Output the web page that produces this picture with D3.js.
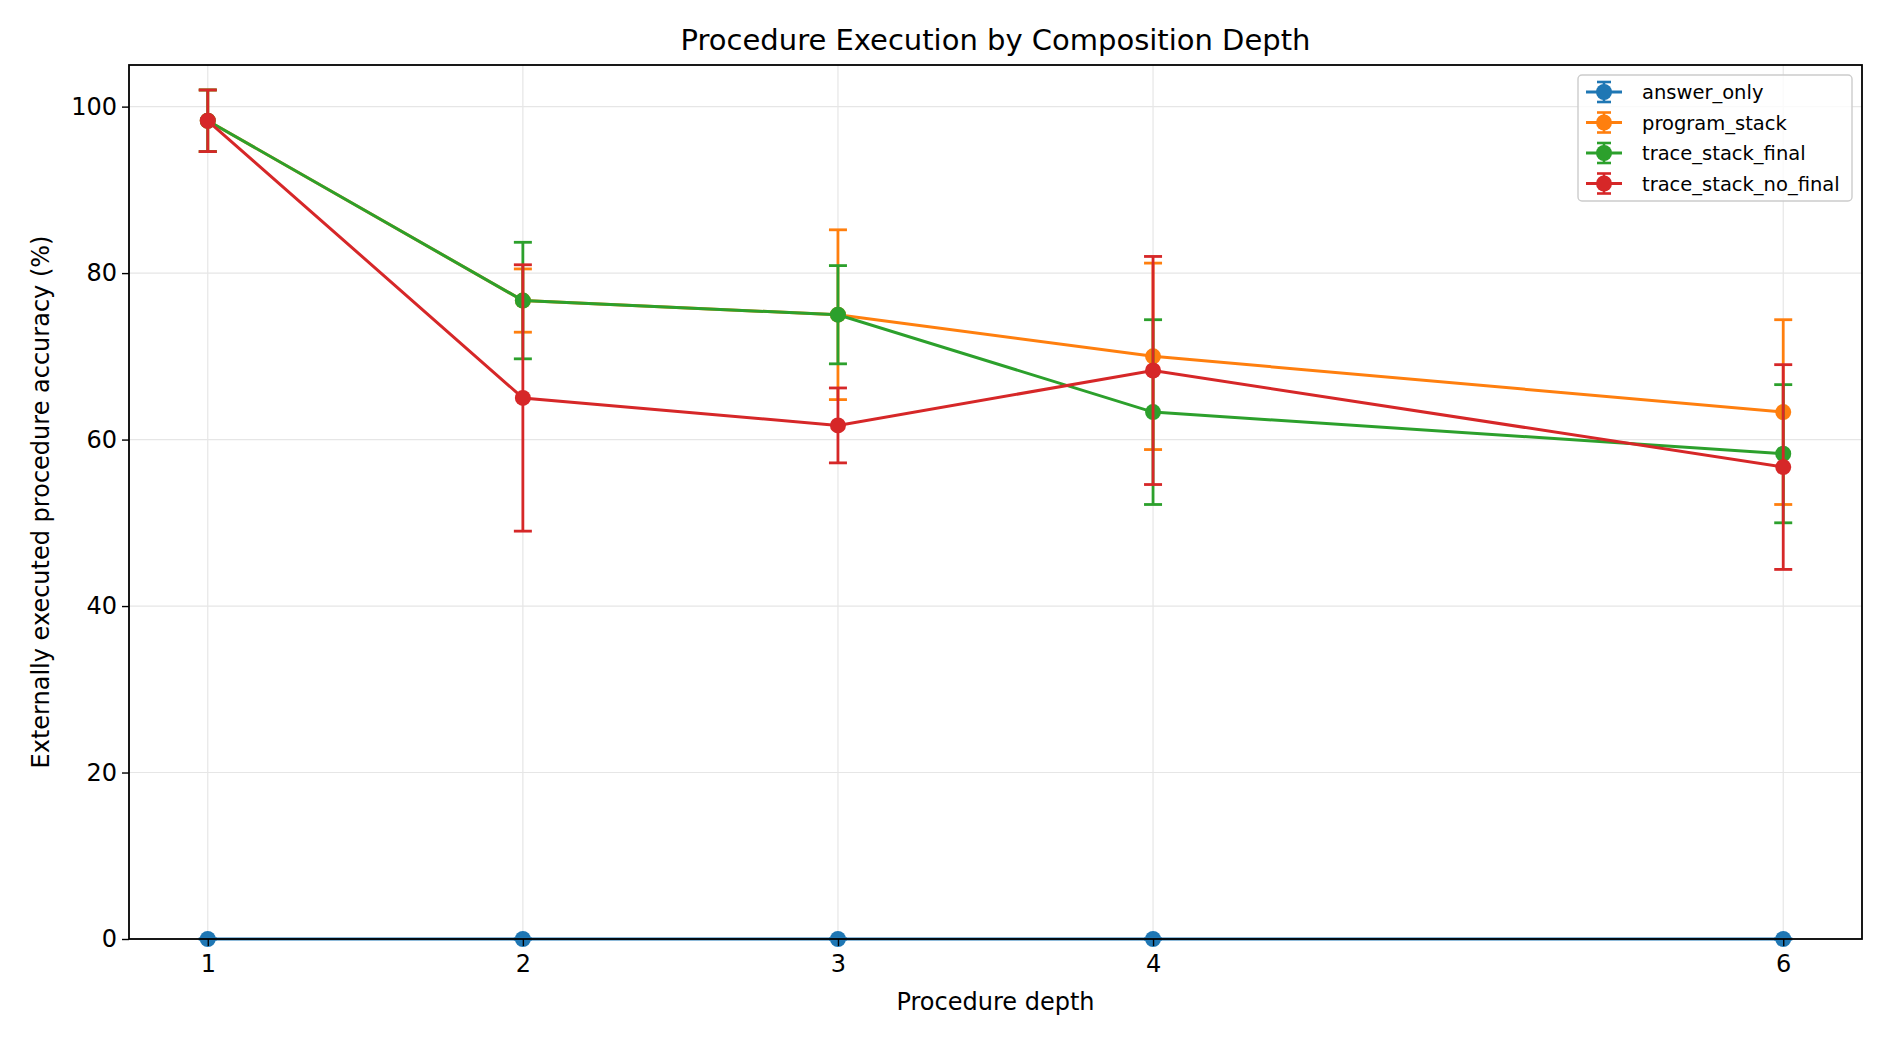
<!DOCTYPE html>
<html><head><meta charset="utf-8">
<script src="https://cdn.jsdelivr.net/npm/d3@7"></script>
<style>body{margin:0;background:#fff}text{font-family:"DejaVu Sans",sans-serif;fill:#000}</style>
</head><body><svg id="c" width="1890" height="1044"></svg>
<script>
const depths = [1, 2, 3, 4, 6];
const seriesNames = ["answer_only", "program_stack", "trace_stack_final", "trace_stack_no_final"];
const colors = ["#1f77b4", "#ff7f0e", "#2ca02c", "#d62728"];
const answerOnly = [0, 0, 0, 0, 0];
const answerOnlyErr = [0, 0, 0, 0, 0];
const programStack = [98.3, 76.7, 75.0, 70.0, 63.3];
const programStackErr = [3.7, 3.8, 10.2, 11.2, 11.1];
const traceStackFinal = [98.3, 76.7, 75.0, 63.3, 58.3];
const traceStackFinalErr = [3.7, 7.0, 5.9, 11.1, 8.3];
const traceStackNoFinal = [98.3, 65.0, 61.7, 68.3, 56.7];
const traceStackNoFinalErr = [3.7, 16.0, 4.5, 13.7, 12.3];
const yTicks = [0, 20, 40, 60, 80, 100];

const values = [answerOnly, programStack, traceStackFinal, traceStackNoFinal];
const errs = [answerOnlyErr, programStackErr, traceStackFinalErr, traceStackNoFinalErr];

const svg = d3.select("#c");
const L = 129, R = 1862, T = 65, B = 939;
const x = d3.scaleLinear().domain([0.75, 6.25]).range([L, R]);
const y = d3.scaleLinear().domain([0, 105]).range([B, T]);

// grid
svg.append("g").selectAll("line").data(depths).join("line")
  .attr("x1", d => x(d)).attr("x2", d => x(d)).attr("y1", T).attr("y2", B)
  .attr("stroke", "#e6e6e6").attr("stroke-width", 1.2);
svg.append("g").selectAll("line").data(yTicks).join("line")
  .attr("x1", L).attr("x2", R).attr("y1", d => y(d)).attr("y2", d => y(d))
  .attr("stroke", "#e6e6e6").attr("stroke-width", 1.2);

// series
const line = d3.line().x(d => x(d[0])).y(d => y(d[1]));
values.forEach((vals, i) => {
  const g = svg.append("g");
  const c = colors[i];
  const pts = depths.map((d, j) => [d, vals[j], errs[i][j]]);
  pts.forEach(p => {
    g.append("line").attr("x1", x(p[0])).attr("x2", x(p[0])).attr("y1", y(p[1] - p[2])).attr("y2", y(p[1] + p[2])).attr("stroke", c).attr("stroke-width", 2.8);
    [p[1] - p[2], p[1] + p[2]].forEach(v => g.append("line").attr("x1", x(p[0]) - 9).attr("x2", x(p[0]) + 9).attr("y1", y(v)).attr("y2", y(v)).attr("stroke", c).attr("stroke-width", 2.8));
  });
  g.append("path").datum(pts).attr("d", line).attr("fill", "none").attr("stroke", c).attr("stroke-width", 3);
  g.selectAll("circle").data(pts).join("circle").attr("cx", d => x(d[0])).attr("cy", d => y(d[1])).attr("r", 8).attr("fill", c);
});

// axes
const xa = svg.append("g").attr("transform", `translate(0,${B})`)
  .call(d3.axisBottom(x).tickValues(depths).tickFormat(d3.format("d")).tickSize(7).tickSizeOuter(0));
const ya = svg.append("g").attr("transform", `translate(${L},0)`)
  .call(d3.axisLeft(y).tickValues(yTicks).tickSize(7).tickSizeOuter(0));
[xa, ya].forEach(a => { a.selectAll("text").style("font-size", "24px").style("font-family", "DejaVu Sans"); a.select(".domain").remove(); a.selectAll("line").attr("stroke-width", 1.4); });
xa.selectAll("text").attr("dy", "0.95em");
ya.selectAll("text").attr("x", -12);
svg.append("rect").attr("x", L).attr("y", T).attr("width", R - L).attr("height", B - T)
  .attr("fill", "none").attr("stroke", "#000").attr("stroke-width", 1.8);

// titles
svg.append("text").attr("x", (L + R) / 2).attr("y", 50).attr("text-anchor", "middle").style("font-size", "29px").text("Procedure Execution by Composition Depth");
svg.append("text").attr("x", (L + R) / 2).attr("y", 1010).attr("text-anchor", "middle").style("font-size", "24px").text("Procedure depth");
svg.append("text").attr("transform", `translate(49,${(T + B) / 2}) rotate(-90)`).attr("text-anchor", "middle").style("font-size", "24px").text("Externally executed procedure accuracy (%)");

// legend
const lg = svg.append("g").attr("transform", "translate(1578,75)");
lg.append("rect").attr("width", 274).attr("height", 126).attr("rx", 4).attr("fill", "#fff").attr("fill-opacity", 0.8).attr("stroke", "#ccc").attr("stroke-width", 1.4);
seriesNames.forEach((n, i) => {
  const yy = 17 + i * 30.5;
  const c = colors[i];
  lg.append("line").attr("x1", 8).attr("x2", 44).attr("y1", yy).attr("y2", yy).attr("stroke", c).attr("stroke-width", 3);
  lg.append("line").attr("x1", 26).attr("x2", 26).attr("y1", yy - 10).attr("y2", yy + 10).attr("stroke", c).attr("stroke-width", 2.6);
  [-10, 10].forEach(o => lg.append("line").attr("x1", 19).attr("x2", 33).attr("y1", yy + o).attr("y2", yy + o).attr("stroke", c).attr("stroke-width", 2.6));
  lg.append("circle").attr("cx", 26).attr("cy", yy).attr("r", 8).attr("fill", c);
  lg.append("text").attr("x", 64).attr("y", yy + 7).style("font-size", "19.5px").text(n);
});
</script></body></html>
